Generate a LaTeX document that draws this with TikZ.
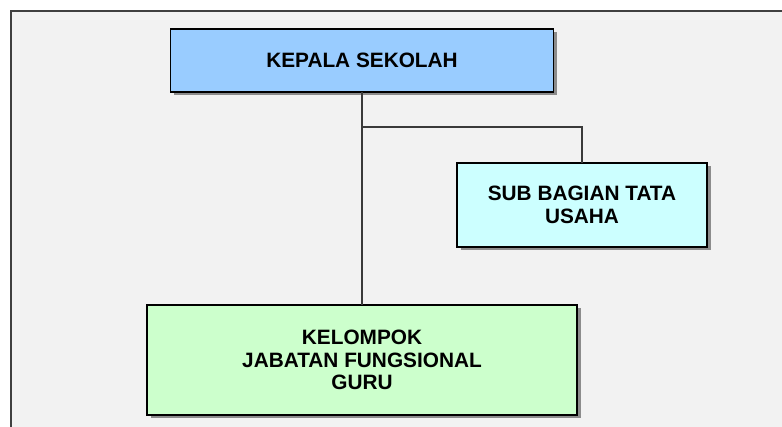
\documentclass[tikz,border=0pt]{standalone}
\usepackage{fontspec}
\setmainfont{Liberation Sans}
\usetikzlibrary{shadows}
\definecolor{bgfill}{HTML}{F2F2F2}
\definecolor{frameline}{HTML}{404040}
\definecolor{kepalafill}{HTML}{99CCFF}
\definecolor{subfill}{HTML}{CCFFFF}
\definecolor{guru}{HTML}{CCFFCC}
\definecolor{connline}{HTML}{3A3A3A}
\begin{document}
\begin{tikzpicture}[x=1pt,y=-1pt,
  orgbox/.style={draw=black, line width=1.6pt, rectangle, outer sep=0pt, inner sep=2pt,
    align=center, font=\fontsize{20.8}{22.8}\selectfont\bfseries,
    drop shadow={shadow xshift=3.5pt, shadow yshift=-3.5pt, fill=black!45, opacity=1}},
  conn/.style={draw=connline, line width=1.1pt}]
\useasboundingbox (0,0) rectangle (782,427);
\fill[white] (0,0) rectangle (782,427);
\fill[bgfill] (11,11) rectangle (782,427);
\draw[frameline, line width=1.3pt] (11,427) -- (11,11) -- (782,11);
\node[orgbox, fill=kepalafill, minimum width=383pt, minimum height=63pt] (kepala) at (362,60.5) {\raisebox{1.5pt}{KEPALA SEKOLAH}};
\node[orgbox, fill=subfill, minimum width=250pt, minimum height=84pt] (sub) at (582,205) {SUB BAGIAN TATA\\USAHA};
\node[orgbox, fill=guru, minimum width=430pt, minimum height=110pt] (kel) at (362,360) {KELOMPOK\\JABATAN FUNGSIONAL\\GURU};
\coordinate (j) at (362,127);
\draw[conn] (kepala.south) -- (kel.north);
\draw[conn] (j) -| (sub.north);
\end{tikzpicture}
\end{document}
